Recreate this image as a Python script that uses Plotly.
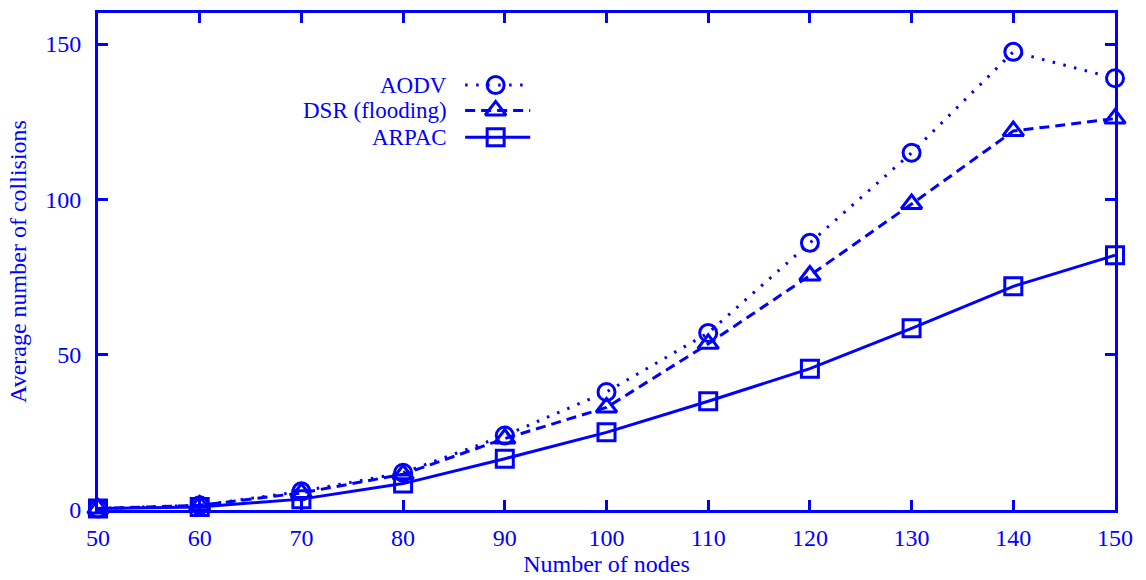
import plotly.graph_objects as go

# Number of nodes in the network
nodes = [50, 60, 70, 80, 90, 100, 110, 120, 130, 140, 150]

# Average number of collisions per protocol
aodv = [0.5, 1.5, 6, 12, 24, 38, 57, 86, 115, 147.5, 139]
dsr_flooding = [0.5, 1.5, 5.5, 11.5, 23, 33, 53.5, 75.5, 98.5, 122, 126]
arpac = [0.5, 1, 3.5, 8.5, 16.5, 25, 35, 45.5, 58.5, 72, 82]

series_names = ["AODV", "DSR (flooding)", "ARPAC"]

BLUE = "#0000ff"
FONT = "Liberation Serif"
FS = 24

styles = [
    dict(dash="2.5px,8.5px", symbol="circle-open", size=17),
    dict(dash="10px,6px", symbol="triangle-up-open", size=18),
    dict(dash="solid", symbol="square-open", size=17),
]

fig = go.Figure()

for name, vals, st in zip(series_names, [aodv, dsr_flooding, arpac], styles):
    fig.add_trace(go.Scatter(
        x=nodes, y=vals, mode="lines+markers", name=name,
        line=dict(color=BLUE, width=3, dash=st["dash"]),
        marker=dict(symbol=st["symbol"], size=st["size"], color=BLUE,
                    line=dict(color=BLUE, width=3)),
        showlegend=False, cliponaxis=False,
    ))

# Key drawn on an overlay axis spanning [0, 1] of the plot area
key_rows = [0.855, 0.804, 0.750]
key_x0, key_x1, key_mid = 0.361, 0.425, 0.391
for name, st, ky in zip(series_names, styles, key_rows):
    fig.add_trace(go.Scatter(
        x=[key_x0, key_x1], y=[ky, ky], mode="lines", xaxis="x2", yaxis="y2",
        line=dict(color=BLUE, width=3, dash=st["dash"]), showlegend=False,
        hoverinfo="skip",
    ))
    fig.add_trace(go.Scatter(
        x=[key_mid], y=[ky], mode="markers", xaxis="x2", yaxis="y2",
        marker=dict(symbol=st["symbol"], size=st["size"], color=BLUE,
                    line=dict(color=BLUE, width=3)),
        showlegend=False, hoverinfo="skip",
    ))
    fig.add_annotation(
        x=0.344, y=ky, xref="x2", yref="y2", text=name, showarrow=False,
        xanchor="right", yanchor="middle", borderpad=0,
        font=dict(family=FONT, size=23, color=BLUE),
    )

axis_common = dict(
    showline=True, linecolor=BLUE, linewidth=3, mirror="ticks",
    ticks="inside", ticklen=10, tickwidth=2.5, tickcolor=BLUE,
    showgrid=False, zeroline=False,
    tickfont=dict(family=FONT, size=FS, color=BLUE),
)

fig.update_layout(
    width=1146, height=580,
    margin=dict(l=98, r=31, t=10, b=68),
    paper_bgcolor="white", plot_bgcolor="white",
    font=dict(family=FONT, color=BLUE),
    xaxis=dict(range=[50, 150], tickmode="array", tickvals=nodes,
               ticklabelstandoff=4,
               title=dict(text="Number of nodes", standoff=2,
                          font=dict(family=FONT, size=FS, color=BLUE)),
               **axis_common),
    yaxis=dict(range=[0, 160], tickmode="array", tickvals=[0, 50, 100, 150],
               ticklabelstandoff=9,
               title=dict(text="Average number of collisions", standoff=12,
                          font=dict(family=FONT, size=FS, color=BLUE)),
               **axis_common),
    xaxis2=dict(range=[0, 1], overlaying="x", visible=False, fixedrange=True),
    yaxis2=dict(range=[0, 1], overlaying="y", visible=False, fixedrange=True),
)

fig.write_html("out.html")
